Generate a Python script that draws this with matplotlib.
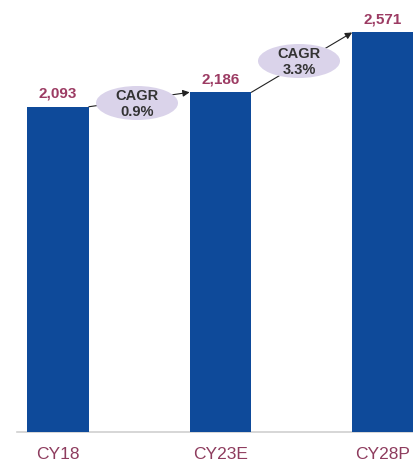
import matplotlib
matplotlib.use("Agg")
import matplotlib.pyplot as plt
from matplotlib.patches import Ellipse

categories = ["CY18", "CY23E", "CY28P"]
values = [2093, 2186, 2571]
value_labels = ["2,093", "2,186", "2,571"]
cagr_labels = ["CAGR\n0.9%", "CAGR\n3.3%"]

W, H = 413, 464
fig = plt.figure(figsize=(W / 100, H / 100), dpi=100)
fig.patch.set_facecolor("white")

base_px = 433
ax = fig.add_axes([0, (H - base_px) / H, 1, base_px / H])
px_per_val = 0.1554
ax.set_ylim(0, base_px / px_per_val)
x0px, step = 58, 162.5
ax.set_xlim(-x0px / step, (W - x0px) / step)

bar_w = 0.38
bar_color = "#0E4A9A"
xs = list(range(len(categories)))
ax.bar(xs, values, width=bar_w, color=bar_color, zorder=2)

label_color = "#9C3B63"
for x, v, t in zip(xs, values, value_labels):
    ax.annotate(t, (x, v), xytext=(0, 5), textcoords="offset points",
                ha="center", va="bottom", color=label_color,
                fontsize=11, fontweight="bold", family="Liberation Sans")

# baseline
ax.plot([(17 - x0px) / step, 3], [0, 0], color="#D0D0D0", lw=1.2, zorder=1,
        clip_on=False)

# arrows between bar tops
for i in range(len(values) - 1):
    ax.annotate("", xy=(xs[i + 1] - bar_w / 2, values[i + 1]),
                xytext=(xs[i] + bar_w / 2, values[i]),
                arrowprops=dict(arrowstyle="-|>", color="#222222", lw=0.8,
                                mutation_scale=10, shrinkA=0, shrinkB=0),
                zorder=3)

# CAGR ellipses
ell_centers_px = [(137, 104), (299, 62)]
for (cx, cy), t in zip(ell_centers_px, cagr_labels):
    xc = (cx - x0px) / step
    yc = (base_px - cy) / px_per_val
    e = Ellipse((xc, yc), 82 / step, 34 / px_per_val, facecolor="#DAD3EA",
                edgecolor="none", zorder=4)
    ax.add_patch(e)
    ax.text(xc, yc, t, ha="center", va="center", fontsize=10.5,
            fontweight="bold", color="#333333", linespacing=1.22,
            family="Liberation Sans", zorder=5)

for x, c in zip(xs, categories):
    ax.text(x, -22 / px_per_val, c, ha="center", va="center", fontsize=12.5,
            color="#8E3C5E", family="Liberation Sans", clip_on=False)

ax.axis("off")
fig.savefig("out.png", dpi=100, facecolor="white")
